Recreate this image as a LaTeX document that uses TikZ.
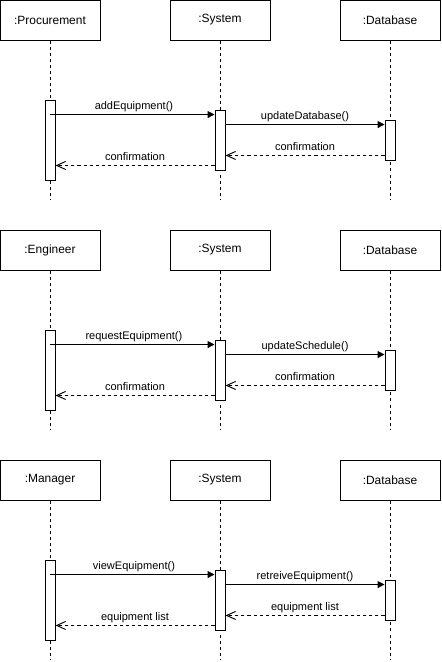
\documentclass[tikz,border=0pt]{standalone}
\usepackage{fontspec}
\setmainfont{Liberation Sans}
\usetikzlibrary{arrows.meta}

\tikzset{
  head/.style={draw, line width=0.8pt, minimum width=3cm, minimum height=1.2cm, font=\fontsize{10.2}{12}\selectfont},
  bar/.style={draw, fill=white, line width=0.8pt, minimum width=0.3cm, inner sep=0pt},
  lifeline/.style={line width=0.8pt, dash pattern=on 2.6pt off 2.6pt},
  call/.style={line width=0.8pt, -{Triangle[length=0.21cm,width=0.21cm]}},
  reply/.style={line width=0.8pt, dash pattern=on 2.6pt off 2.6pt, -{Straight Barb[length=0.27cm,width=0.24cm]}},
  msg/.style={font=\fontsize{9.4}{11}\selectfont, above, inner sep=1.8pt, text height=0.72em, text depth=0.2em}
}

\begin{document}
\begin{tikzpicture}[x=0.03cm, y=-0.03cm]
\useasboundingbox (0,0) rectangle (441,662);

\foreach \dy/\actor/\ask/\pass/\back in {0/Procurement/addEquipment()/updateDatabase()/confirmation,
                                        230/Engineer/requestEquipment()/updateSchedule()/confirmation,
                                        460/Manager/viewEquipment()/retreiveEquipment()/equipment list}{

	% Header boxes of the three lifelines
	\node[head] (who\dy) at (50,20+\dy) {:\actor};
	\node[head] (sys\dy) at (220,20+\dy) {:System};
	\node[head] (db\dy) at (390,20+\dy) {:Database};

	% Dashed lifelines
	\coordinate (end\dy) at (0,200+\dy);
	\draw[lifeline] (who\dy) -- (who\dy |- end\dy);
	\draw[lifeline] (sys\dy) -- (sys\dy |- end\dy);
	\draw[lifeline] (db\dy) -- (db\dy |- end\dy);

	% Activation bars
	\node[bar, minimum height=2.4cm] (whobar\dy) at (50,140+\dy) {};
	\node[bar, minimum height=1.8cm] (sysbar\dy) at (220,140+\dy) {};
	\node[bar, minimum height=1.2cm] (dbbar\dy) at (390,140+\dy) {};

	% Calls
	\coordinate (ask\dy) at ([yshift=-0.15cm]sysbar\dy.north west);
	\draw[call] (ask\dy -| whobar\dy) -- (ask\dy) node[msg, midway, xshift=0.05cm] {\ask};
	\coordinate (pass\dy) at ([yshift=-0.15cm]dbbar\dy.north west);
	\draw[call] (pass\dy -| sysbar\dy.east) -- (pass\dy) node[msg, midway] {\pass};

	% Replies
	\coordinate (backdb\dy) at ([yshift=0.15cm]dbbar\dy.south west);
	\draw[reply] (backdb\dy) -- (backdb\dy -| sysbar\dy.east) node[msg, midway] {\back};
	\coordinate (backsys\dy) at ([yshift=0.15cm]sysbar\dy.south west);
	\draw[reply] (backsys\dy) -- (backsys\dy -| whobar\dy.east) node[msg, midway] {\back};
}
\end{tikzpicture}
\end{document}
